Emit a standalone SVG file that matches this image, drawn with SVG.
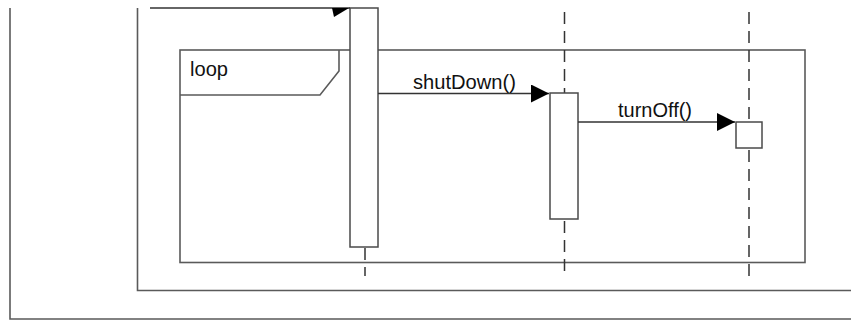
<svg xmlns="http://www.w3.org/2000/svg" width="851" height="322" viewBox="0 0 851 322">
<style>
.frame{fill:none;stroke:#5a5a5a;stroke-width:1.6}
.act{fill:#fff;stroke:#4a4a4a;stroke-width:1.5}
.life{stroke:#333;stroke-width:1.5;stroke-dasharray:12,7;fill:none}
.msg{stroke:#333;stroke-width:1.3;fill:none}
.lbl{font-family:"Liberation Sans",Arial,sans-serif;font-size:20px;fill:#111}
</style>
<defs>
<marker id="arr" markerWidth="18" markerHeight="18" refX="18" refY="9" orient="auto" markerUnits="userSpaceOnUse">
<path d="M0,0 L18,9 L0,18 Z" fill="#000"/>
</marker>
</defs>
<rect width="851" height="322" fill="#fff"/>
<g id="outer-frame"><path class="frame" d="M10,8 V319 H851"/></g>
<g id="inner-frame"><path class="frame" d="M137.5,8 V290.5 H851"/></g>
<g id="loop-frame">
<rect class="frame" x="180" y="50" width="625" height="212.5"/>
<path class="frame" d="M339,50 V71 L320,95 H180"/>
<text class="lbl" x="190" y="76" textLength="38" lengthAdjust="spacingAndGlyphs">loop</text>
</g>
<g id="lifeline1">
<rect class="act" x="350" y="8" width="28" height="239"/>
<line class="life" x1="365" y1="248" x2="365" y2="276" stroke-dasharray="28,0"/>
</g>
<g id="lifeline2">
<line class="life" x1="564.5" y1="12" x2="564.5" y2="93"/>
<rect class="act" x="550" y="93" width="28" height="126"/>
<line class="life" x1="564.5" y1="221" x2="564.5" y2="278"/>
</g>
<g id="lifeline3">
<line class="life" x1="749" y1="12" x2="749" y2="122"/>
<rect class="act" x="736" y="122" width="26" height="26"/>
<line class="life" x1="749" y1="150" x2="749" y2="278"/>
</g>
<g id="connectors">
<line class="msg" x1="150" y1="8" x2="350" y2="8"/>
<polygon points="332,8 349,8 334,17" fill="#000"/>
<line class="msg" x1="378" y1="93.5" x2="549" y2="93.5" marker-end="url(#arr)"/>
<text class="lbl" x="413" y="89" textLength="103" lengthAdjust="spacingAndGlyphs">shutDown()</text>
<line class="msg" x1="578" y1="122" x2="735" y2="122" marker-end="url(#arr)"/>
<text class="lbl" x="618" y="117" textLength="74" lengthAdjust="spacingAndGlyphs">turnOff()</text>
</g>
</svg>
